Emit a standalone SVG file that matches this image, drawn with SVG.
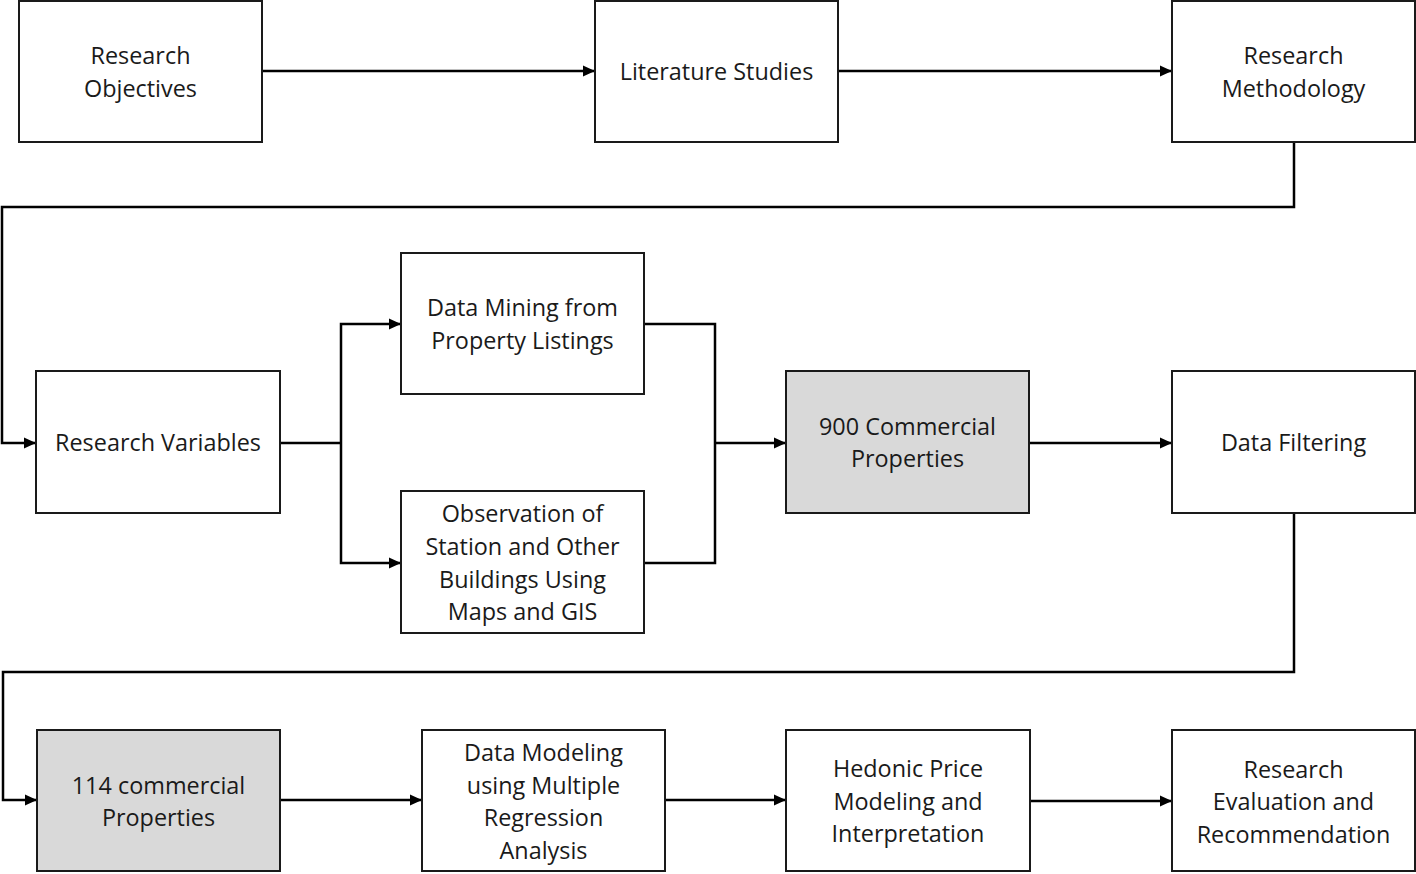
<svg xmlns="http://www.w3.org/2000/svg" width="1416" height="874" viewBox="0 0 1416 874">
<style>
.box{fill:#ffffff;stroke:#1a1a1a;stroke-width:2}
.hl{fill:#d9d9d9}
.t{font-family:"Open Sans","Liberation Sans",sans-serif;font-size:23.4px;fill:#1a1a1a;text-anchor:middle}
.c{fill:none;stroke:#000;stroke-width:2.5}
.a{marker-end:url(#arr)}
</style>
<defs>
<marker id="arr" markerUnits="userSpaceOnUse" markerWidth="14" markerHeight="14" refX="12" refY="7" orient="auto">
<path d="M0,1.5 L12,7 L0,12.5 Z" fill="#000"/>
</marker>
</defs>
<rect width="1416" height="874" fill="#ffffff"/>
<g id="connectors">
<path class="c a" d="M262,71 H595"/>
<path class="c a" d="M838,71 H1172"/>
<path class="c a" d="M1294,142 V207 H2 V443 H36"/>
<path class="c" d="M280,443 H341"/>
<path class="c a" d="M341,443 V324 H401"/>
<path class="c a" d="M341,443 V563 H401"/>
<path class="c" d="M644,324 H715 V563 H644"/>
<path class="c a" d="M715,443 H786"/>
<path class="c a" d="M1029,443 H1172"/>
<path class="c a" d="M1294,513 V672 H3 V800 H37"/>
<path class="c a" d="M280,800 H422"/>
<path class="c a" d="M665,800 H786"/>
<path class="c a" d="M1030,801 H1172"/>
</g>
<g id="n1"><rect class="box" x="19" y="1" width="243" height="141"/><text class="t" x="140.5" y="64">Research</text><text class="t" x="140.5" y="97">Objectives</text></g>
<g id="n2"><rect class="box" x="595" y="1" width="243" height="141"/><text class="t" x="716.5" y="80">Literature Studies</text></g>
<g id="n3"><rect class="box" x="1172" y="1" width="243" height="141"/><text class="t" x="1293.5" y="64">Research</text><text class="t" x="1293.5" y="97">Methodology</text></g>
<g id="n4"><rect class="box" x="36" y="371" width="244" height="142"/><text class="t" x="158" y="451">Research Variables</text></g>
<g id="n5"><rect class="box" x="401" y="253" width="243" height="141"/><text class="t" x="522.5" y="316">Data Mining from</text><text class="t" x="522.5" y="349">Property Listings</text></g>
<g id="n6"><rect class="box" x="401" y="491" width="243" height="142"/><text class="t" x="522.5" y="522">Observation of</text><text class="t" x="522.5" y="555">Station and Other</text><text class="t" x="522.5" y="588">Buildings Using</text><text class="t" x="522.5" y="620">Maps and GIS</text></g>
<g id="n7"><rect class="box hl" x="786" y="371" width="243" height="142"/><text class="t" x="907.5" y="435">900 Commercial</text><text class="t" x="907.5" y="467">Properties</text></g>
<g id="n8"><rect class="box" x="1172" y="371" width="243" height="142"/><text class="t" x="1293.5" y="451">Data Filtering</text></g>
<g id="n9"><rect class="box hl" x="37" y="730" width="243" height="141"/><text class="t" x="158.5" y="794">114 commercial</text><text class="t" x="158.5" y="826">Properties</text></g>
<g id="n10"><rect class="box" x="422" y="730" width="243" height="141"/><text class="t" x="543.5" y="761">Data Modeling</text><text class="t" x="543.5" y="794">using Multiple</text><text class="t" x="543.5" y="826">Regression</text><text class="t" x="543.5" y="859">Analysis</text></g>
<g id="n11"><rect class="box" x="786" y="730" width="244" height="141"/><text class="t" x="908" y="777">Hedonic Price</text><text class="t" x="908" y="810">Modeling and</text><text class="t" x="908" y="842">Interpretation</text></g>
<g id="n12"><rect class="box" x="1172" y="730" width="243" height="141"/><text class="t" x="1293.5" y="778">Research</text><text class="t" x="1293.5" y="810">Evaluation and</text><text class="t" x="1293.5" y="843">Recommendation</text></g>
</svg>
